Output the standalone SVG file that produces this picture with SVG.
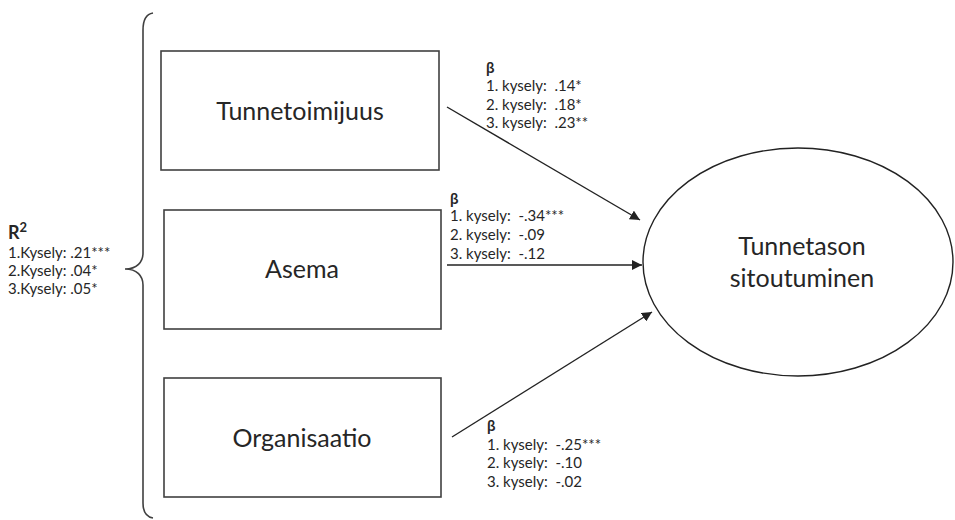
<svg xmlns="http://www.w3.org/2000/svg" width="955" height="520" viewBox="0 0 955 520">
<style>
.box{fill:#fff;stroke:#404040;stroke-width:1.6}
.node-label{font-family:Lato,"Open Sans",sans-serif;font-size:25px;fill:#262626;text-anchor:middle}
.small{font-family:Lato,"Open Sans",sans-serif;font-size:15px;fill:#262626;white-space:pre}
.beta{font-family:Lato,"Open Sans",sans-serif;font-size:15px;font-weight:bold;fill:#262626}
.conn{stroke:#222;stroke-width:1.4;fill:none;marker-end:url(#arr)}
</style>
<defs>
<marker id="arr" viewBox="0 0 10 10" refX="10" refY="5" markerWidth="10" markerHeight="10" markerUnits="userSpaceOnUse" orient="auto">
<path d="M0,0 L10,5 L0,10 z" fill="#222"/>
</marker>
</defs>
<rect width="955" height="520" fill="#fff"/>
<g id="r2-label">
<text x="8" y="239" font-family="Lato,'Open Sans',sans-serif" font-size="18" font-weight="bold" fill="#262626">R<tspan dy="-7" font-size="13">2</tspan></text>
<text class="small" x="8" y="258">1.Kysely: .21***</text>
<text class="small" x="8" y="276">2.Kysely: .04*</text>
<text class="small" x="8" y="294">3.Kysely: .05*</text>
</g>
<g id="brace">
<path d="M153,13 C147,14 143,19 143,30 L143,253 C143,262 137,269 125,269 C137,269 143,276 143,285 L143,503 C143,513 147,517 153,518" fill="none" stroke="#404040" stroke-width="1.6"/>
</g>
<g id="node-tunnetoimijuus">
<rect class="box" x="161" y="51" width="278" height="119"/>
<text class="node-label" x="300" y="120">Tunnetoimijuus</text>
</g>
<g id="node-asema">
<rect class="box" x="164" y="210" width="277" height="119"/>
<text class="node-label" x="302" y="278">Asema</text>
</g>
<g id="node-organisaatio">
<rect class="box" x="164" y="378" width="277" height="119"/>
<text class="node-label" x="302" y="447">Organisaatio</text>
</g>
<g id="node-tunnetason">
<ellipse cx="798" cy="262" rx="155" ry="114" fill="#fff" stroke="#222" stroke-width="1.4"/>
<text class="node-label" x="802" y="255">Tunnetason</text>
<text class="node-label" x="802" y="287">sitoutuminen</text>
</g>
<g id="connectors">
<line class="conn" x1="447" y1="107" x2="640" y2="220"/>
<line class="conn" x1="447" y1="265" x2="642" y2="265"/>
<line class="conn" x1="452" y1="437" x2="652" y2="312"/>
</g>
<g id="beta-labels">
<text class="beta" x="486" y="73">β</text>
<text class="small" x="486" y="91">1. kysely:  .14*</text>
<text class="small" x="486" y="110">2. kysely:  .18*</text>
<text class="small" x="486" y="128">3. kysely:  .23**</text>
<text class="beta" x="450" y="204">β</text>
<text class="small" x="450" y="221">1. kysely:  -.34***</text>
<text class="small" x="450" y="240">2. kysely:  -.09</text>
<text class="small" x="450" y="259">3. kysely:  -.12</text>
<text class="beta" x="487" y="431">β</text>
<text class="small" x="487" y="450">1. kysely:  -.25***</text>
<text class="small" x="487" y="468">2. kysely:  -.10</text>
<text class="small" x="487" y="487">3. kysely:  -.02</text>
</g>
</svg>
